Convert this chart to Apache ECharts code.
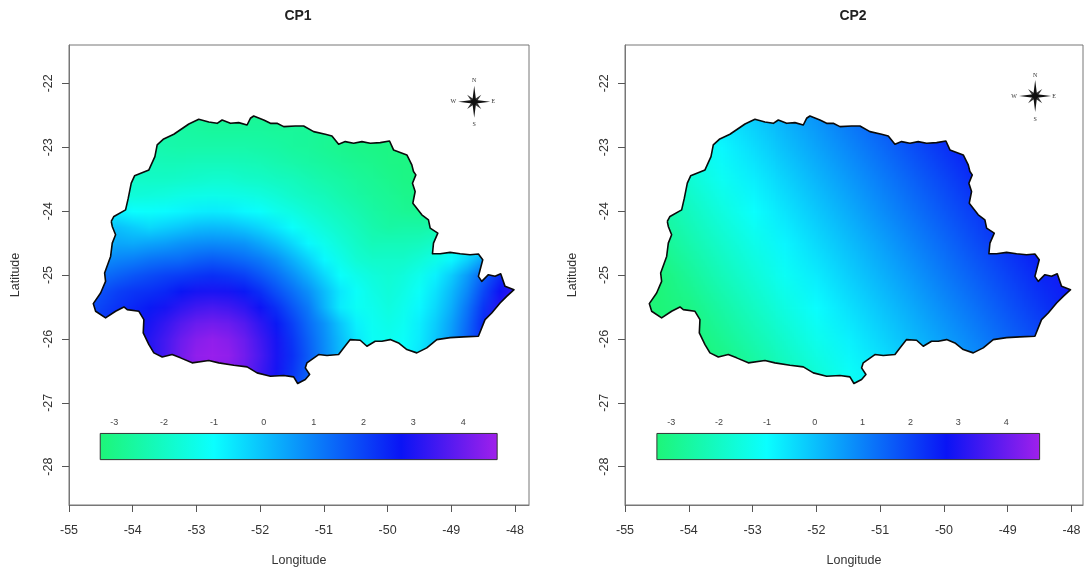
<!DOCTYPE html>
<html><head><meta charset="utf-8">
<style>html,body{margin:0;padding:0;background:#fff}#c{width:1084px;height:568px}</style>
<script src="https://cdn.jsdelivr.net/npm/echarts@6/dist/echarts.min.js"></script>
</head><body><div id="c"></div>
<script>
const outlineLon=[-54.337,-54.295,-54.112,-54.070,-54.023,-53.971,-53.746,-53.652,-53.616,-53.522,-53.355,-53.119,-52.963,-52.806,-52.675,-52.597,-52.466,-52.336,-52.205,-52.153,-52.101,-51.944,-51.839,-51.735,-51.630,-51.448,-51.317,-51.160,-50.977,-50.873,-50.768,-50.664,-50.533,-50.403,-50.272,-50.115,-49.969,-49.906,-49.697,-49.619,-49.593,-49.556,-49.609,-49.567,-49.603,-49.462,-49.358,-49.331,-49.211,-49.279,-49.295,-49.175,-49.018,-48.861,-48.705,-48.574,-48.506,-48.574,-48.522,-48.417,-48.313,-48.224,-48.156,-48.015,-48.130,-48.234,-48.365,-48.470,-48.574,-48.809,-49.018,-49.227,-49.384,-49.541,-49.697,-49.828,-49.958,-50.089,-50.194,-50.324,-50.429,-50.586,-50.690,-50.768,-50.951,-51.082,-51.265,-51.291,-51.223,-51.291,-51.411,-51.474,-51.630,-51.839,-52.048,-52.205,-52.414,-52.649,-52.806,-53.067,-53.250,-53.381,-53.537,-53.668,-53.746,-53.835,-53.825,-53.903,-54.086,-54.138,-54.269,-54.426,-54.582,-54.619,-54.504,-54.426,-54.441,-54.347,-54.321,-54.269,-54.321,-54.337];
const outlineLat=[-24.162,-24.084,-23.980,-23.797,-23.563,-23.448,-23.355,-23.146,-22.964,-22.876,-22.797,-22.636,-22.563,-22.605,-22.626,-22.574,-22.626,-22.615,-22.652,-22.547,-22.511,-22.574,-22.626,-22.626,-22.678,-22.667,-22.667,-22.756,-22.797,-22.824,-22.954,-22.912,-22.938,-22.912,-22.938,-22.928,-22.902,-23.042,-23.120,-23.277,-23.381,-23.433,-23.563,-23.693,-23.876,-24.058,-24.136,-24.266,-24.344,-24.501,-24.667,-24.667,-24.646,-24.667,-24.683,-24.672,-24.761,-25.021,-25.099,-24.995,-25.021,-24.980,-25.178,-25.230,-25.334,-25.438,-25.594,-25.698,-25.959,-25.969,-25.980,-26.011,-26.141,-26.219,-26.167,-26.063,-26.011,-26.037,-26.037,-26.115,-26.021,-26.011,-26.141,-26.245,-26.261,-26.245,-26.375,-26.454,-26.558,-26.636,-26.698,-26.594,-26.573,-26.584,-26.532,-26.438,-26.412,-26.375,-26.339,-26.375,-26.297,-26.245,-26.282,-26.219,-26.089,-25.907,-25.698,-25.568,-25.542,-25.500,-25.568,-25.672,-25.568,-25.448,-25.282,-25.099,-24.969,-24.709,-24.501,-24.370,-24.240,-24.162];

const cp1Lon=[-55,-54.75,-54.5,-54.25,-54,-53.75,-53.5,-53.25,-53,-52.75,-52.5,-52.25,-52,-51.75,-51.5,-51.25,-51,-50.75,-50.5,-50.25,-50,-49.75,-49.5,-49.25,-49,-48.75,-48.5,-48.25,-48];
const cp1Lat=[-22.5,-22.75,-23,-23.25,-23.5,-23.75,-24,-24.25,-24.5,-24.75,-25,-25.25,-25.5,-25.75,-26,-26.25,-26.5,-26.75,-27];
const cp1Rows=[
[-2.3,-2.35,-2.4,-2.45,-2.5,-2.55,-2.6,-2.65,-2.7,-2.75,-2.75,-2.8,-2.8,-2.8,-2.85,-2.85,-2.85,-2.85,-2.85,-2.9,-2.95,-3,-3,-3,-3,-3,-3,-3,-3],
[-2.2,-2.25,-2.3,-2.35,-2.4,-2.45,-2.5,-2.55,-2.6,-2.65,-2.65,-2.65,-2.65,-2.7,-2.7,-2.75,-2.8,-2.85,-2.9,-2.95,-3,-3.05,-3.1,-3.1,-3.1,-3,-3,-2.9,-2.9],
[-2.1,-2.15,-2.2,-2.25,-2.3,-2.35,-2.4,-2.45,-2.45,-2.45,-2.45,-2.45,-2.5,-2.55,-2.65,-2.7,-2.8,-2.9,-3,-3.05,-3.1,-3.1,-3.1,-3.1,-3.1,-3.05,-3,-2.9,-2.8],
[-1.9,-2,-2.05,-2.05,-2.1,-2.15,-2.2,-2.2,-2.15,-2.15,-2.15,-2.2,-2.25,-2.35,-2.45,-2.55,-2.65,-2.75,-2.85,-2.95,-3.05,-3.1,-3.1,-3.1,-3.05,-3,-2.9,-2.8,-2.7],
[-1.6,-1.7,-1.8,-1.85,-1.9,-1.95,-1.95,-1.9,-1.85,-1.8,-1.8,-1.9,-1.95,-2.05,-2.15,-2.3,-2.45,-2.55,-2.7,-2.8,-2.95,-3.05,-3.1,-3.05,-3,-2.9,-2.8,-2.65,-2.5],
[-1.5,-1.55,-1.6,-1.6,-1.65,-1.6,-1.55,-1.45,-1.4,-1.35,-1.4,-1.45,-1.55,-1.7,-1.9,-2.05,-2.2,-2.4,-2.55,-2.7,-2.8,-2.95,-3,-3,-2.9,-2.8,-2.65,-2.5,-2.3],
[-1.2,-1,-0.8,-0.8,-1.0,-1.05,-0.95,-0.85,-0.75,-0.7,-0.75,-0.9,-1.05,-1.3,-1.5,-1.75,-1.95,-2.15,-2.35,-2.55,-2.7,-2.8,-2.85,-2.85,-2.7,-2.55,-2.4,-2.2,-2],
[-0.6,-0.4,-0.4,0,-0.2,-0.4,-0.25,-0.1,0.05,0.1,0.05,-0.1,-0.35,-0.65,-1.05,-1.35,-1.65,-1.9,-2.15,-2.4,-2.55,-2.5,-2.5,-2.4,-2.2,-2,-1.8,-1.5,-1.2],
[-0.4,-0.2,0,0.4,0.35,0.45,0.55,0.7,0.8,0.85,0.8,0.7,0.4,0.05,-0.4,-0.9,-1.3,-1.65,-1.95,-2.2,-2.2,-2.2,-2.1,-1.9,-1.5,-1.2,-1,-0.6,-0.2],
[0,0.3,0.8,0.95,1.05,1.2,1.3,1.35,1.5,1.6,1.5,1.35,1.1,0.75,0.25,-0.3,-0.9,-1.35,-1.75,-1.9,-1.9,-1.9,-1.7,-1.4,-0.9,-0.3,0.5,1.2,2],
[0.7,1,1.3,1.5,1.7,1.85,2,2.1,2.2,2.3,2.2,2.05,1.7,1.3,0.8,0.25,-0.4,-1.05,-1.35,-1.6,-1.75,-1.6,-1.3,-0.8,-0.2,0.6,1.5,2.3,3.0],
[1.2,1.5,1.8,2.05,2.2,2.3,2.45,2.7,2.9,2.95,2.9,2.65,2.3,1.8,1.3,0.75,0.05,-0.65,-1.1,-1.45,-1.65,-1.45,-1.1,-0.55,0.1,0.9,1.9,2.8,3.3],
[1.3,1.7,2,2.25,2.45,2.65,2.9,3.2,3.45,3.55,3.45,3.2,2.8,2.3,1.7,1.1,0.2,-0.7,-1.15,-1.3,-1.55,-1.3,-0.9,-0.4,0.3,1.2,2.2,3.1,3.5],
[1.4,1.9,2.2,2.4,2.65,2.95,3.3,3.7,4,4.1,4,3.7,3.2,2.65,2.05,1.35,0.7,-0.1,-0.8,-1.2,-1.4,-1.2,-0.75,-0.2,0.5,1.4,2.4,3.2,3.5],
[1.5,2,2.3,2.5,2.8,3.1,3.5,4,4.35,4.5,4.35,4,3.45,2.9,2.2,1.5,0.8,0.05,-0.65,-1.15,-1.25,-1.1,-0.7,-0.1,0.6,1.5,2.4,3.2,3.5],
[1.5,2,2.3,2.5,2.7,3.05,3.55,4.1,4.5,4.6,4.5,4.1,3.55,2.95,2.3,1.6,0.85,0.1,-0.6,-1.05,-1.1,-1.0,-0.6,0,0.7,1.5,2.3,3,3.4],
[1.5,2,2.3,2.5,2.8,3.1,3.5,4,4.35,4.5,4.35,4,3.45,2.9,2.2,1.5,0.8,0.05,-0.6,-1,-1,-0.9,-0.5,0.1,0.7,1.5,2.2,2.9,3.3],
[1.4,1.9,2.2,2.4,2.65,2.95,3.3,3.7,4,4.1,4,3.7,3.2,2.65,2.05,1.35,0.7,-0.1,-0.6,-1,-1,-0.9,-0.5,0.1,0.7,1.4,2.1,2.8,3.2],
[1.3,1.7,2,2.25,2.45,2.65,2.9,3.2,3.45,3.55,3.45,3.2,2.8,2.3,1.7,1.1,0.4,-0.35,-0.7,-1,-1,-0.9,-0.5,0.1,0.7,1.3,2,2.6,3]];

const cp2Lon=[-55,-54.5,-54,-53.5,-53,-52.5,-52,-51.5,-51,-50.5,-50,-49.5,-49,-48.5,-48];
const cp2Lat=[-22.5,-23,-23.5,-24,-24.5,-25,-25.5,-26,-26.5,-27];
const cp2Rows=[
[-2.12,-1.59,-1.07,-0.6,-0.17,0.28,0.73,1.19,1.64,2.09,2.54,2.99,3.44,3.89,4.34],
[-2.45,-1.92,-1.4,-0.89,-0.45,0,0.45,0.9,1.35,1.81,2.26,2.71,3.16,3.61,4.06],
[-2.8,-2.27,-1.74,-1.21,-0.75,-0.3,0.16,0.61,1.06,1.51,1.96,2.41,2.86,3.31,3.77],
[-3.13,-2.6,-2.07,-1.54,-1.03,-0.58,-0.13,0.33,0.78,1.23,1.68,2.13,2.58,3.03,3.48],
[-3.3,-2.93,-2.4,-1.87,-1.36,-0.86,-0.41,0.04,0.49,0.95,1.4,1.85,2.3,2.75,3.2],
[-3.3,-3.26,-2.73,-2.2,-1.69,-1.17,-0.69,-0.24,0.21,0.66,1.12,1.57,2.02,2.47,2.92],
[-3.3,-3.3,-3.06,-2.53,-2.02,-1.5,-0.97,-0.52,-0.07,0.38,0.83,1.28,1.74,2.19,2.64],
[-3.3,-3.3,-3.3,-2.86,-2.35,-1.83,-1.3,-0.8,-0.35,0.1,0.55,1,1.45,1.9,2.36],
[-3.3,-3.3,-3.3,-3.2,-2.7,-2.17,-1.64,-1.12,-0.65,-0.2,0.25,0.71,1.16,1.61,2.06],
[-3.3,-3.3,-3.3,-3.3,-3.03,-2.5,-1.97,-1.45,-0.93,-0.48,-0.03,0.42,0.87,1.33,1.78]];

const rampValues=[-3.3,-1,2.75,4.7];
const rampColors=[[30,245,120],[10,255,255],[10,20,245],[160,32,235]];
const barTicks=[-3,-2,-1,0,1,2,3,4];
const xTicks=[-55,-54,-53,-52,-51,-50,-49,-48];
const yTicks=[-22,-23,-24,-25,-26,-27,-28];
const titles=['CP1','CP2'];
const barLon=[[-54.51,-48.28],[-54.5,-48.5]];
const barLat=[-27.48,-27.89];
const barValueRange=[[-3.28,4.68],[-3.3,4.7]];
const roseCentre=[[-48.64,-22.29],[-48.57,-22.2]];
const roseLetters=['N','E','S','W'];

function ramp(v){
  const s=rampValues;
  if(v<=s[0])return rampColors[0];
  for(let i=1;i<s.length;i++){
    if(v<=s[i]){const t=(v-s[i-1])/(s[i]-s[i-1]);const a=rampColors[i-1],b=rampColors[i];
      return [0,1,2].map(k=>Math.round(a[k]+(b[k]-a[k])*t));}
  }
  return rampColors[3];
}
function fieldCanvas(rows){
  const w=rows[0].length,h=rows.length;
  const c=document.createElement('canvas');c.width=w;c.height=h;
  const g=c.getContext('2d');const im=g.createImageData(w,h);
  rows.forEach((r,j)=>r.forEach((v,i)=>{const q=ramp(v),o=(j*w+i)*4;im.data[o]=q[0];im.data[o+1]=q[1];im.data[o+2]=q[2];im.data[o+3]=255;}));
  g.putImageData(im,0,0);return c;
}
const fields=[fieldCanvas(cp1Rows),fieldCanvas(cp2Rows)];
const fieldLon=[cp1Lon,cp2Lon],fieldLat=[cp1Lat,cp2Lat];
const outline=outlineLon.map((x,i)=>[x,outlineLat[i]]);

const grids=[{left:69,top:45,width:460,height:460,show:true,borderColor:'#777',borderWidth:1,backgroundColor:'#fff',outerBoundsMode:'none'},
             {left:625,top:45,width:458,height:460,show:true,borderColor:'#777',borderWidth:1,backgroundColor:'#fff',outerBoundsMode:'none'}];
const xMax=[-47.78,-47.82];
const txt='#333',font='"Liberation Sans",Arial,sans-serif';
const xAxes=grids.map((g,i)=>({type:'value',gridIndex:i,min:-55,max:xMax[i],position:'bottom',
  name:'Longitude',nameLocation:'middle',nameGap:56,nameTextStyle:{fontSize:12.5,color:txt,fontFamily:font,verticalAlign:'middle'},
  axisLine:{show:true,onZero:false,lineStyle:{color:'#777',width:1}},
  axisTick:{show:true,length:7,lineStyle:{color:'#555'},customValues:xTicks},
  axisLabel:{show:true,margin:19,fontSize:12.5,color:txt,fontFamily:font,customValues:xTicks,hideOverlap:false},
  splitLine:{show:false}}));
const yAxes=grids.map((g,i)=>({type:'value',gridIndex:i,min:-28.6,max:-21.4,position:'left',
  name:'Latitude',nameLocation:'middle',nameGap:i?46:47,nameTextStyle:{fontSize:12.5,color:txt,fontFamily:font},
  axisLine:{show:true,onZero:false,lineStyle:{color:'#777',width:1}},
  axisTick:{show:true,length:7,lineStyle:{color:'#555'},customValues:yTicks},
  axisLabel:{show:true,rotate:90,margin:14,fontSize:12.5,color:txt,fontFamily:font,customValues:yTicks,hideOverlap:false},
  splitLine:{show:false}}));

const series=[];
[0,1].forEach(p=>{
  const L=fieldLon[p],A=fieldLat[p];
  const dLon=(L[1]-L[0])/2,dLat=(A[0]-A[1])/2;
  series.push({type:'custom',xAxisIndex:p,yAxisIndex:p,z:1,silent:true,
    data:[[L[0]-dLon,A[0]+dLat,L[L.length-1]+dLon,A[A.length-1]-dLat]],
    renderItem(params,api){
      const a=api.coord([api.value(0),api.value(1)]),b=api.coord([api.value(2),api.value(3)]);
      return {type:'image',style:{image:fields[p],x:a[0],y:a[1],width:b[0]-a[0],height:b[1]-a[1]},
        clipPath:{type:'polygon',shape:{points:outline.map(q=>api.coord(q))}}};
    }});
  series.push({type:'line',xAxisIndex:p,yAxisIndex:p,z:3,silent:true,data:outline,symbol:'none',smooth:false,
    lineStyle:{color:'#0a0a0a',width:1.6,join:'round'}});
  series.push({type:'custom',xAxisIndex:p,yAxisIndex:p,z:4,silent:true,
    data:[[barLon[p][0],barLat[0],barLon[p][1],barLat[1]]],
    renderItem(params,api){
      const a=api.coord([api.value(0),api.value(1)]),b=api.coord([api.value(2),api.value(3)]);
      const r=barValueRange[p];
      const stops=rampValues.map((v,i)=>({offset:Math.min(1,Math.max(0,(v-r[0])/(r[1]-r[0]))),color:'rgb('+rampColors[i].join(',')+')'}));
      return {type:'rect',shape:{x:a[0],y:a[1],width:b[0]-a[0],height:b[1]-a[1]},
        style:{fill:new echarts.graphic.LinearGradient(0,0,1,0,stops),stroke:'#333',lineWidth:1}};
    }});
  series.push({type:'custom',xAxisIndex:p,yAxisIndex:p,z:4,silent:true,
    data:barTicks.map(t=>[t]),
    renderItem(params,api){
      const r=barValueRange[p],t=api.value(0);
      const lon=barLon[p][0]+(t-r[0])/(r[1]-r[0])*(barLon[p][1]-barLon[p][0]);
      const q=api.coord([lon,barLat[0]]);
      return {type:'text',style:{x:q[0],y:q[1]-11,text:String(t),fill:'#444',fontSize:9,fontFamily:font,align:'center',verticalAlign:'middle'}};
    }});
  series.push({type:'custom',xAxisIndex:p,yAxisIndex:p,z:4,silent:true,
    data:[roseCentre[p]],
    renderItem(params,api){
      const c=api.coord([api.value(0),api.value(1)]);
      const kids=[];
      const ray=(ang,len,w,fill)=>{const cs=Math.cos(ang),sn=Math.sin(ang);
        const pt=(u,v)=>[c[0]+u*cs-v*sn,c[1]+u*sn+v*cs];
        kids.push({type:'polygon',shape:{points:[pt(0,-w),pt(len,0),pt(0,w),pt(-len,0)]},style:{fill}});};
      for(let k=0;k<2;k++){ray(Math.PI/4+k*Math.PI/2,10,2,'#333');}
      ray(0,16,2,'#111');ray(Math.PI/2,16,2,'#111');
      const lab=[[0,-21],[19,0],[0,23],[-21,0]];
      roseLetters.forEach((l,i)=>kids.push({type:'text',style:{x:c[0]+lab[i][0],y:c[1]+lab[i][1],text:l,fontSize:6,fill:'#333',fontFamily:'"Liberation Serif",serif',align:'center',verticalAlign:'middle'}}));
      return {type:'group',children:kids};
    }});
});

echarts.init(document.getElementById('c'),null,{renderer:'canvas'}).setOption({
  animation:false,backgroundColor:'#fff',
  title:titles.map((t,i)=>({text:t,left:[293,848][i],top:4,textAlign:'center',textStyle:{fontSize:14,fontWeight:'bold',color:'#222',fontFamily:font}})),
  grid:grids,xAxis:xAxes,yAxis:yAxes,series
});
</script></body></html>
